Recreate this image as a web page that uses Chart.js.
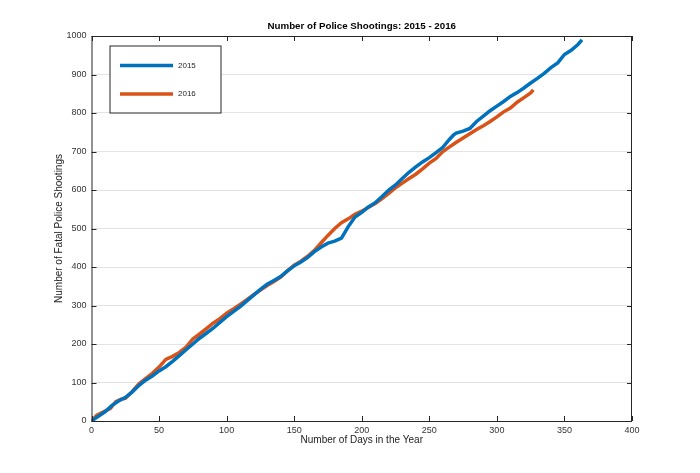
<!DOCTYPE html>
<html>
<head>
    <title>Number of Police Shootings</title>
    <script src="https://cdn.jsdelivr.net/npm/chart.js"></script>
    <style>
        body { margin: 0; background: #fff; }
    </style>
</head>
<body>
    <canvas id="shootChart" width="700" height="473"></canvas>
    <script>
        const days2015 = [0, 5, 10, 15, 20, 25, 30, 35, 40, 45, 50, 55, 60, 65, 70, 75, 80, 85, 90, 95, 100,
            105, 110, 115, 120, 125, 130, 135, 140, 145, 150, 155, 160, 165, 170, 175, 180, 185, 190, 195, 200,
            205, 210, 215, 220, 225, 230, 235, 240, 245, 250, 255, 260, 265, 268, 270, 275, 280, 285, 290, 295, 300,
            305, 310, 315, 320, 325, 330, 335, 340, 345, 350, 355, 360, 363];
        const shootings2015 = [0, 12, 24, 40, 52, 61, 75, 92, 106, 117, 130, 141, 155, 170, 185, 200, 215, 228, 241, 256, 271,
            284, 297, 312, 327, 342, 355, 365, 375, 390, 403, 413, 425, 440, 452, 462, 467, 475, 505, 530, 542,
            556, 567, 583, 600, 613, 630, 646, 660, 673, 684, 697, 711, 732, 743, 748, 753, 760, 778, 792, 806, 818,
            830, 843, 853, 865, 878, 890, 903, 918, 930, 952, 963, 978, 990];

        const days2016 = [0, 4, 9, 14, 18, 22, 25, 30, 35, 40, 45, 50, 55, 60, 65, 70, 75, 80, 85, 90, 95, 100,
            105, 110, 115, 120, 125, 130, 135, 140, 145, 150, 155, 160, 165, 170, 175, 180, 185, 190, 195, 200,
            205, 210, 215, 220, 225, 230, 235, 240, 245, 250, 255, 260, 265, 270, 275, 280, 285, 290, 295, 300,
            305, 310, 315, 320, 325, 327];
        const shootings2016 = [0, 15, 24, 33, 50, 57, 59, 76, 96, 110, 124, 140, 160, 168, 178, 192, 213, 226, 240, 254, 266, 280,
            291, 303, 315, 328, 340, 352, 362, 374, 390, 405, 415, 428, 443, 463, 482, 500, 515, 525, 537, 545,
            555, 565, 578, 591, 606, 618, 630, 641, 655, 670, 682, 700, 712, 724, 735, 746, 757, 767, 778, 790,
            803, 813, 828, 840, 852, 860];

        const xTicks = [0, 50, 100, 150, 200, 250, 300, 350, 400];
        const yTicks = [0, 100, 200, 300, 400, 500, 600, 700, 800, 900, 1000];
        const chartTitle = 'Number of Police Shootings: 2015 - 2016';

        const axisColor = '#262626';
        const fontFamily = 'Liberation Sans, Arial, sans-serif';

        // frame on all four sides + inward ticks (matlab style) + boxed legend + title over the axes
        const framePlugin = {
            id: 'frame',
            afterDraw(chart) {
                const ctx = chart.ctx;
                const a = chart.chartArea;
                const xs = chart.scales.x, ys = chart.scales.y;
                ctx.save();
                ctx.strokeStyle = axisColor;
                ctx.lineWidth = 1;
                ctx.strokeRect(a.left + 0.5, a.top + 0.5, a.right - a.left - 1, a.bottom - a.top);
                ctx.beginPath();
                xTicks.forEach(v => {
                    const px = Math.round(xs.getPixelForValue(v)) + 0.5;
                    ctx.moveTo(px, a.bottom); ctx.lineTo(px, a.bottom - 5);
                    ctx.moveTo(px, a.top); ctx.lineTo(px, a.top + 5);
                });
                yTicks.forEach(v => {
                    const py = Math.round(ys.getPixelForValue(v)) + 0.5;
                    ctx.moveTo(a.left, py); ctx.lineTo(a.left + 5, py);
                    ctx.moveTo(a.right, py); ctx.lineTo(a.right - 5, py);
                });
                ctx.stroke();

                // title
                ctx.fillStyle = '#000';
                ctx.font = 'bold 9.75px ' + fontFamily;
                ctx.textAlign = 'center';
                ctx.textBaseline = 'middle';
                ctx.fillText(chartTitle, (a.left + a.right) / 2, 26);

                // legend
                const lx = a.left + 18.5, ly = a.top + 10;
                ctx.fillStyle = '#fff';
                ctx.fillRect(lx, ly, 111, 67);
                ctx.strokeStyle = axisColor;
                ctx.strokeRect(lx, ly, 111, 67);
                ctx.font = '8px ' + fontFamily;
                ctx.textAlign = 'left';
                chart.data.datasets.forEach((ds, i) => {
                    const yy = ly + 19.5 + i * 28.5;
                    ctx.strokeStyle = ds.borderColor;
                    ctx.lineWidth = 3.5;
                    ctx.beginPath();
                    ctx.moveTo(lx + 10, yy); ctx.lineTo(lx + 63, yy);
                    ctx.stroke();
                    ctx.fillStyle = axisColor;
                    ctx.fillText(ds.label, lx + 68, yy);
                });
                ctx.restore();
            }
        };

        new Chart(document.getElementById('shootChart'), {
            type: 'line',
            data: {
                datasets: [{
                    label: '2015',
                    data: days2015.map((d, i) => ({ x: d, y: shootings2015[i] })),
                    borderColor: '#0072BD',
                    borderWidth: 3.5,
                    pointRadius: 0,
                    tension: 0
                }, {
                    label: '2016',
                    data: days2016.map((d, i) => ({ x: d, y: shootings2016[i] })),
                    borderColor: '#D95319',
                    borderWidth: 3.5,
                    pointRadius: 0,
                    tension: 0
                }]
            },
            options: {
                responsive: false,
                animation: false,
                layout: { padding: { left: 50, right: 68, top: 36, bottom: 0 } },
                plugins: {
                    legend: { display: false },
                    tooltip: { enabled: false },
                    title: { display: false }
                },
                scales: {
                    x: {
                        type: 'linear',
                        min: 0,
                        max: 400,
                        afterFit: s => { s.height = 52; },
                        ticks: { stepSize: 50, color: '#333', padding: 4, font: { family: fontFamily, size: 9 } },
                        grid: { display: false, drawTicks: false },
                        border: { display: false },
                        title: {
                            display: true,
                            text: 'Number of Days in the Year',
                            color: '#222',
                            font: { family: fontFamily, size: 10 },
                            padding: { top: 0, bottom: 27 }
                        }
                    },
                    y: {
                        min: 0,
                        max: 1000,
                        afterFit: s => { s.width = 41.5; },
                        ticks: {
                            stepSize: 100,
                            color: '#333',
                            padding: 5,
                            font: { family: fontFamily, size: 9 },
                            callback: v => String(v)
                        },
                        grid: { color: '#e3e3e3', drawTicks: false },
                        border: { display: false },
                        title: {
                            display: true,
                            text: 'Number of Fatal Police Shootings',
                            color: '#222',
                            font: { family: fontFamily, size: 10 },
                            padding: { top: 3, bottom: 0 }
                        }
                    }
                }
            },
            plugins: [framePlugin]
        });
    </script>
</body>
</html>
